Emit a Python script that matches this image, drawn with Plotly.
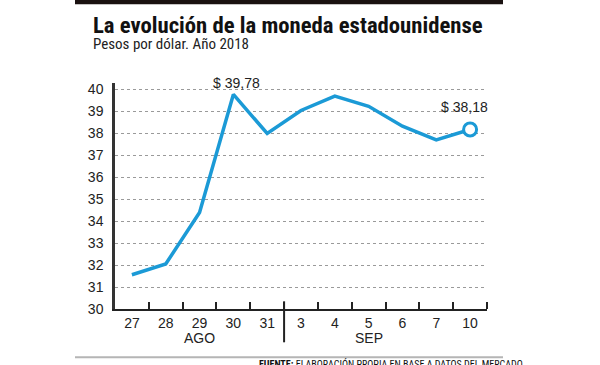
import plotly.graph_objects as go

# ---- data ----
days = ["27", "28", "29", "30", "31", "3", "4", "5", "6", "7", "10"]
values = [31.56, 32.05, 34.40, 39.78, 38.00, 39.05, 39.70, 39.24, 38.33, 37.71, 38.18]
y_ticks = list(range(30, 41))
month_labels = ["AGO", "SEP"]
month_centers = ["29", "5"]
title = "La evolución de la moneda estadounidense"
subtitle = "Pesos por dólar. Año 2018"
source_bold = "FUENTE:"
source_text = " ELABORACIÓN PROPIA EN BASE A DATOS DEL MERCADO"

BLUE = "#1b9ad6"
W, H = 600, 365
L, R = 115, 487          # plot area left/right in px
T, B = 82.7, 308.7       # plot area top/bottom in px


def px_x(px):
    return (px - L) / (R - L)


def px_y(py):
    return (B - py) / (B - T)


NARROW = "Liberation Sans Narrow, Roboto Condensed, Arial Narrow, sans-serif"
REG = "Liberation Sans, Arial, sans-serif"

xi = list(range(len(days)))
boundaries = [i + 0.5 for i in xi]

fig = go.Figure()
fig.add_trace(go.Scatter(
    x=xi, y=values, mode="lines",
    line=dict(color=BLUE, width=3.5), hoverinfo="skip", showlegend=False,
))
fig.add_trace(go.Scatter(
    x=[xi[-1]], y=[values[-1]], mode="markers",
    marker=dict(size=13, color="white", line=dict(color=BLUE, width=3)),
    hoverinfo="skip", showlegend=False,
))

imax = values.index(max(values))
fig.add_annotation(x=xi[imax], y=values[imax], text="$ " + f"{values[imax]:.2f}".replace(".", ","),
                   showarrow=False, yanchor="bottom", yshift=1, xshift=3,
                   font=dict(size=14, color="#222", family=REG))
fig.add_annotation(x=xi[-1], y=values[-1], text="$ " + f"{values[-1]:.2f}".replace(".", ","),
                   showarrow=False, yanchor="bottom", yshift=13, xshift=-6,
                   font=dict(size=14, color="#222", family=REG))

for lab, c in zip(month_labels, month_centers):
    fig.add_annotation(x=days.index(c), y=px_y(338), yref="paper", text=lab, showarrow=False,
                       yanchor="middle", font=dict(size=14, color="#222", family=REG))

# title / subtitle / source
fig.add_annotation(x=px_x(91), y=px_y(25), xref="paper", yref="paper", text="<b>" + title + "</b>",
                   showarrow=False, xanchor="left", yanchor="middle",
                   font=dict(size=22.7, color="#111", family=NARROW))
fig.add_annotation(x=px_x(91), y=px_y(44), xref="paper", yref="paper", text=subtitle,
                   showarrow=False, xanchor="left", yanchor="middle",
                   font=dict(size=15, color="#222", family=NARROW))
fig.add_annotation(x=px_x(257), y=px_y(364), xref="paper", yref="paper",
                   text="<b>" + source_bold + "</b>" + source_text,
                   showarrow=False, xanchor="left", yanchor="middle",
                   font=dict(size=10, color="#111", family=NARROW))

# decorative shapes
fig.add_shape(type="rect", xref="paper", yref="paper", x0=px_x(75), x1=px_x(503),
              y0=px_y(4), y1=px_y(-2), fillcolor="#1a1110", line=dict(width=0))
fig.add_shape(type="line", xref="paper", yref="paper", x0=px_x(75), x1=px_x(503),
              y0=px_y(357), y1=px_y(357), line=dict(color="#b5b5b5", width=2))
fig.add_shape(type="line", xref="x", yref="paper", x0=4.5, x1=4.5,
              y0=px_y(342), y1=px_y(301), line=dict(color="#222", width=2))

fig.update_xaxes(
    range=[-0.5, len(days) - 0.5],
    tickvals=xi, ticktext=days, ticks="",
    minor=dict(tickvals=boundaries, ticks="inside", ticklen=7, tickwidth=2,
               tickcolor="#222", showgrid=False),
    showline=True, linecolor="#222", linewidth=2,
    showgrid=False, zeroline=False,
    tickfont=dict(size=14, color="#222", family=REG),
)
fig.update_yaxes(
    range=[30, 40.3], tickvals=y_ticks, ticktext=[str(v) for v in y_ticks],
    showline=True, linecolor="#333", linewidth=2.5,
    showgrid=True, gridcolor="#9a9a9a", gridwidth=1, griddash="dot",
    zeroline=False, ticks="", ticklabelstandoff=6,
    tickfont=dict(size=14, color="#222", family=REG),
)
fig.update_layout(
    width=W, height=H, autosize=False,
    margin=dict(l=L, r=W - R, t=T, b=H - B),
    plot_bgcolor="white", paper_bgcolor="white",
    showlegend=False,
)
fig.write_html("out.html", config={"displayModeBar": False},
               post_script="document.body.style.margin='0';document.body.style.overflow='hidden';")
